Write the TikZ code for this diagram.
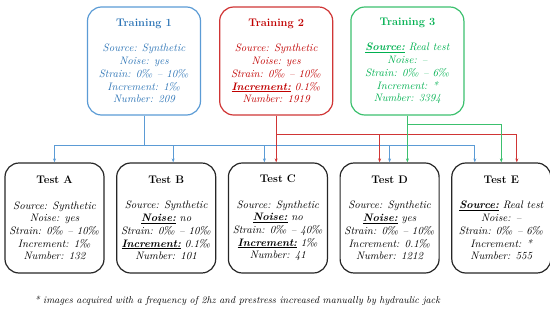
\documentclass[tikz,border=0pt]{standalone}
\usepackage{tikz}
\usetikzlibrary{arrows.meta, positioning}
\definecolor{tblue}{HTML}{2E75B6}
\definecolor{tred}{HTML}{C00000}
\definecolor{tgreen}{HTML}{00B050}
\definecolor{lblue}{HTML}{5B9BD5}
\definecolor{lred}{HTML}{D03535}
\definecolor{lgreen}{HTML}{3CC06E}
\newcommand{\hd}[1]{\textup{\fontsize{11}{12.7}\selectfont\textbf{#1}}}
\newcommand{\ulb}[1]{\underline{\textbf{#1}}}
\newcommand{\pmil}{\textperthousand}

\begin{document}
\begin{tikzpicture}[
  x=1pt, y=-1pt,
  node distance=11.5pt and 11.5pt,
  every node/.style={font=\fontsize{10.8}{12.7}\selectfont\itshape},
  train/.style={rectangle, rounded corners=14pt, draw=l#1, line width=1.2pt, text=t#1,
    minimum width=113pt, minimum height=108pt, align=center, inner sep=2pt},
  test/.style={rectangle, rounded corners=14pt, draw=black!85, line width=1.2pt,
    minimum width=99pt, minimum height=110pt, align=center, inner sep=2pt},
  arr/.style={-{Stealth[length=4pt, width=3pt]}, line width=0.9pt, draw=#1},
  note/.style={font=\fontsize{10}{12}\selectfont\itshape, anchor=west}
]
\useasboundingbox (0,0) rectangle (550,311);

% ---- TRAINING ----
\node[train=blue] (t1) at (144,61) {\hd{Training 1}\\[12.7pt]
  Source: Synthetic\\ Noise: yes\\ Strain: 0\pmil{} -- 10\pmil\\ Increment: 1\pmil\\ Number: 209};
\node[train=red, right=18pt of t1] (t2) {\hd{Training 2}\\[12.7pt]
  Source: Synthetic\\ Noise: yes\\ Strain: 0\pmil{} -- 10\pmil\\ \ulb{Increment:} 0.1\pmil\\ Number: 1919};
\node[train=green, right=17pt of t2] (t3) {\hd{Training 3}\\[12.7pt]
  \ulb{Source:} Real test\\ Noise: --\\ Strain: 0\pmil{} -- 6\pmil\\ Increment: *\\ Number: 3394};

% ---- TEST ----
\node[test] (ta) at (54.5,218) {\hd{Test A}\\[12.7pt]
  Source: Synthetic\\ Noise: yes\\ Strain: 0\pmil{} -- 10\pmil\\ Increment: 1\pmil\\ Number: 132};
\node[test, right=of ta] (tb) {\hd{Test B}\\[12.7pt]
  Source: Synthetic\\ \ulb{Noise:} no\\ Strain: 0\pmil{} -- 10\pmil\\ \ulb{Increment:} 0.1\pmil\\ Number: 101};
\node[test, right=of tb] (tc) {\hd{Test C}\\[12.7pt]
  Source: Synthetic\\ \ulb{Noise:} no\\ Strain: 0\pmil{} -- 40\pmil\\ \ulb{Increment:} 1\pmil\\ Number: 41};
\node[test, right=of tc] (td) {\hd{Test D}\\[12.7pt]
  Source: Synthetic\\ \ulb{Noise:} yes\\ Strain: 0\pmil{} -- 10\pmil\\ Increment: 0.1\pmil\\ Number: 1212};
\node[test, right=of td] (te) {\hd{Test E}\\[12.7pt]
  \ulb{Source:} Real test\\ Noise: --\\ Strain: 0\pmil{} -- 6\pmil\\ Increment: *\\ Number: 555};

% bus heights
\coordinate (gbus) at (0,124);
\coordinate (rbus) at (0,134);
\coordinate (bbus) at (0,145);

% ---- TRAINING 1 -> TESTS ----
\draw[arr=lblue] (t1.south) |- (ta.north |- bbus) -- (ta.north);
\draw[arr=lblue] (t1.south |- bbus) -| ([xshift=7pt]tb.north);
\draw[arr=lblue] (t1.south |- bbus) -| ([xshift=-13.5pt]tc.north);
\draw[arr=lblue] (t1.south |- bbus) -| (td.north);
\draw[arr=lblue] (t1.south |- bbus) -| ([xshift=-26.5pt]te.north);

% ---- TRAINING 2 -> TESTS ----
\draw[arr=lred] (t2.south) -- (t2.south |- tc.north);
\draw[arr=lred] (t2.south |- rbus) -| ([xshift=-10pt]td.north);
\draw[arr=lred] (t2.south |- rbus) -| ([xshift=15.5pt]te.north);

% ---- TRAINING 3 -> TESTS ----
\draw[arr=lgreen] (t3.south) -- (t3.south |- td.north);
\draw[arr=lgreen] (t3.south |- gbus) -| (te.north);

% ---- NOTE ----
\node[note] (fn) at (31,301) {* images acquired with a frequency of 2hz and prestress increased manually by hydraulic jack};
\end{tikzpicture}
\end{document}
